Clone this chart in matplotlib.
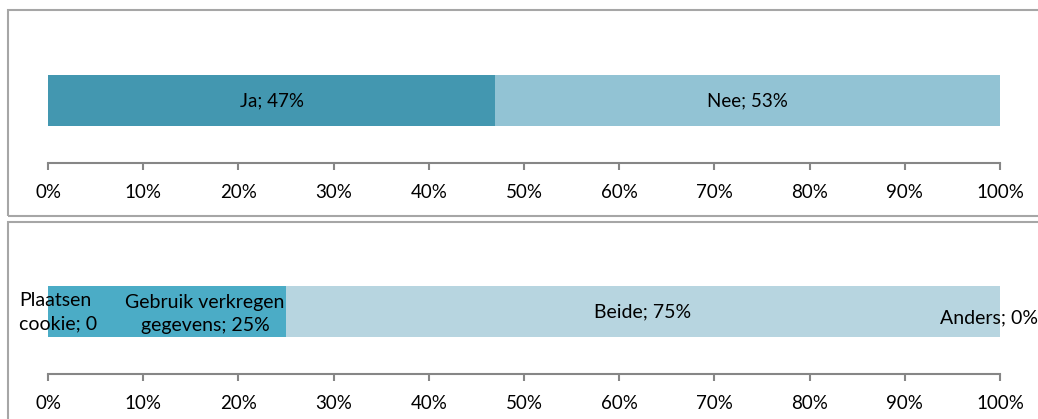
import matplotlib
matplotlib.use("Agg")
import matplotlib.pyplot as plt
from matplotlib.patches import Rectangle
import numpy as np

# data
top_labels = ["Ja", "Nee"]
top_values = [47, 53]
top_colors = ["#4397b0", "#92c3d4"]

bottom_values = [0, 25, 75, 0]
bottom_texts = ["Plaatsen\ncookie; 0", "Gebruik verkregen\ngegevens; 25%", "Beide; 75%", "Anders; 0%"]
bottom_colors = ["#4bacc6", "#4bacc6", "#b7d5e0", "#b7d5e0"]

ticks = np.arange(0, 101, 10)
tick_labels = [f"{t}%" for t in ticks]

plt.rcParams['font.family'] = ['Lato', 'DejaVu Sans']
W, H = 1038, 419
fig = plt.figure(figsize=(W / 100, H / 100), dpi=100)

axis_gray = "#868686"


def make_axes(top_px, bottom_px):
    return fig.add_axes([48 / W, 1 - bottom_px / H, 952 / W, (bottom_px - top_px) / H])


def style_axes(ax):
    ax.set_xlim(0, 100)
    ax.set_ylim(-1.25, 1.25)
    for s in ["top", "right", "left"]:
        ax.spines[s].set_visible(False)
    ax.spines["bottom"].set_color(axis_gray)
    ax.spines["bottom"].set_linewidth(1.5)
    ax.set_yticks([])
    ax.set_xticks(ticks)
    ax.set_xticklabels(tick_labels)
    ax.tick_params(axis="x", direction="out", length=5, width=1.5, color=axis_gray,
                   labelsize=13.5, pad=10, labelcolor="black")
    ax.patch.set_visible(False)


# frames
fig.add_artist(Rectangle((8 / W, 1 - 216 / H), 1.1, 206 / H, transform=fig.transFigure,
                         fill=False, edgecolor="#a6a6a6", lw=1.5))
fig.add_artist(Rectangle((8 / W, -0.1), 1.1, 1 - 222 / H + 0.1, transform=fig.transFigure,
                         fill=False, edgecolor="#a6a6a6", lw=1.5))

# top chart
ax1 = make_axes(38, 163)
left = 0
for lab, val, col in zip(top_labels, top_values, top_colors):
    ax1.barh(0, val, left=left, height=1.02, color=col)
    ax1.text(left + val / 2, 0, f"{lab}; {val}%", ha="center", va="center", fontsize=13.5)
    left += val
style_axes(ax1)

# bottom chart
ax2 = make_axes(249, 374)
label_shift = [(-3.0, -0.02, "left"), (4.0, -0.05, "center"), (0, 0, "center"), (-1.2, -0.13, "center")]
left = 0
for val, col, txt, (dx, dy, ha) in zip(bottom_values, bottom_colors, bottom_texts, label_shift):
    ax2.barh(0, val, left=left, height=1.02, color=col)
    x = left + val / 2 + dx
    ax2.text(x, dy, txt, ha=ha, va="center", fontsize=14, linespacing=1.45, clip_on=False)
    left += val
style_axes(ax2)

fig.savefig("out.png", dpi=100)
